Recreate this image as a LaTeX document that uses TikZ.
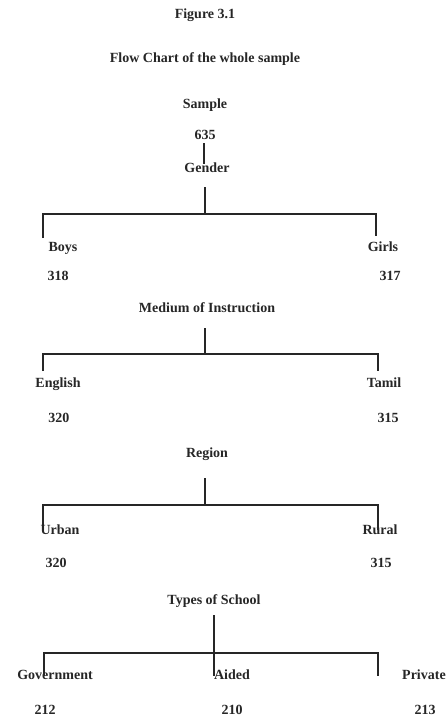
\documentclass[tikz,border=0pt]{standalone}
\usepackage{fontspec}
\setmainfont{Liberation Serif}
\begin{document}
\begin{tikzpicture}[x=1pt,y=-1pt,
  t/.style={font=\fontsize{14}{16}\selectfont\bfseries, inner sep=0pt, anchor=base, text=black!85},
  ln/.style={line width=1.3pt, draw=black!85}]
\useasboundingbox (0,0) rectangle (446,721);
% headings
\node[t] (fig) at (205,18.5) {Figure 3.1};
\node[t] (title) at (205,62.5) {Flow Chart of the whole sample};
\node[t] (sample) at (205,108.5) {Sample};
\node[t] (n635) at (205,139.5) {635};
\node[t] (gender) at (207,172.5) {Gender};
\coordinate (a1) at (204,143);
\coordinate (a2) at (204,164);
\draw[ln] (a1) -- (a2);
% gender level
\coordinate (g0) at (205,187);
\coordinate (gb) at (205,214);
\coordinate (gl) at (43,214);
\coordinate (gr) at (376,214);
\coordinate (gld) at (43,238);
\coordinate (grd) at (376,236);
\draw[ln] (g0) -- (gb);
\draw[ln] (gld) -- (gl) -- (gr) -- (grd);
\node[t] (boys) at (63,251.5) {Boys};
\node[t] (girls) at (383,251.5) {Girls};
\node[t] (n318) at (58,280.5) {318};
\node[t] (n317) at (390,280.5) {317};
% medium
\node[t] (medium) at (207,312.5) {Medium of Instruction};
\coordinate (m0) at (205,328);
\coordinate (mb) at (205,354);
\coordinate (ml) at (43,354);
\coordinate (mr) at (378,354);
\coordinate (mld) at (43,371);
\coordinate (mrd) at (378,371);
\draw[ln] (m0) -- (mb);
\draw[ln] (mld) -- (ml) -- (mr) -- (mrd);
\node[t] (english) at (58,387.5) {English};
\node[t] (tamil) at (384,387.5) {Tamil};
\node[t] (n320a) at (59,422.5) {320};
\node[t] (n315a) at (388,422.5) {315};
% region
\node[t] (region) at (207,457.5) {Region};
\coordinate (r0) at (205,478);
\coordinate (rb) at (205,505);
\coordinate (rl) at (43,505);
\coordinate (rr) at (378,505);
\coordinate (rld) at (43,530);
\coordinate (rrd) at (378,530);
\draw[ln] (r0) -- (rb);
\draw[ln] (rld) -- (rl) -- (rr) -- (rrd);
\node[t] (urban) at (60,534.5) {Urban};
\node[t] (rural) at (380,534.5) {Rural};
\node[t] (n320b) at (56,567.5) {320};
\node[t] (n315b) at (381,567.5) {315};
% type of school
\node[t] (types) at (214,604.5) {Types of School};
\coordinate (s0) at (214,615);
\coordinate (sm) at (214,676);
\coordinate (sl) at (44,653);
\coordinate (sr) at (378,653);
\coordinate (sld) at (44,676);
\coordinate (srd) at (378,676);
\draw[ln] (s0) -- (sm);
\draw[ln] (sld) -- (sl) -- (sr) -- (srd);
\node[t] (gov) at (55,679.5) {Government};
\node[t] (aided) at (232,679.5) {Aided};
\node[t, anchor=base west] (private) at (402,679.5) {Private};
\node[t] (n212) at (45,714.5) {212};
\node[t] (n210) at (232,714.5) {210};
\node[t] (n213) at (425,714.5) {213};
\end{tikzpicture}
\end{document}
